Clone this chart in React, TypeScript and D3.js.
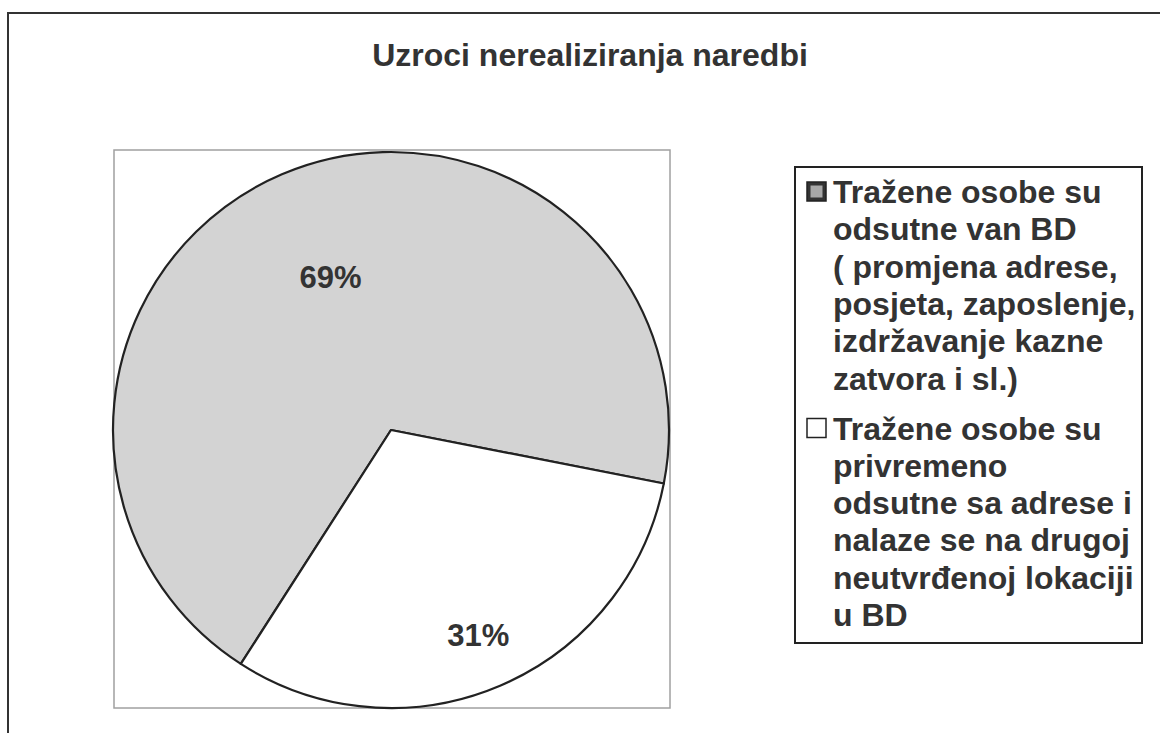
import React, { useEffect, useRef } from "react";
import * as d3 from "d3";

const title = "Uzroci nerealiziranja naredbi";
const categories = [
  "Tražene osobe su odsutne van BD ( promjena adrese, posjeta, zaposlenje, izdržavanje kazne zatvora i sl.)",
  "Tražene osobe su privremeno odsutne sa adrese i nalaze se na drugoj neutvrđenoj lokaciji u BD",
];
const values = [69, 31];
const legendLines = [
  ["Tražene osobe su", "odsutne van BD", "( promjena adrese,", "posjeta, zaposlenje,", "izdržavanje kazne", "zatvora i sl.)"],
  ["Tražene osobe su", "privremeno", "odsutne sa adrese i", "nalaze se na drugoj", "neutvrđenoj lokaciji", "u BD"],
];
const colors = ["#d3d3d3", "#ffffff"];

const FONT = "'Liberation Sans', Arial, sans-serif";
const TEXT = "#333";

function App() {
  const ref = useRef(null);

  useEffect(() => {
    const svg = d3.select(ref.current);
    svg.selectAll("*").remove();

    // outer chart frame
    svg.append("rect")
      .attr("x", 8).attr("y", 13)
      .attr("width", 1170).attr("height", 740)
      .attr("fill", "#fff")
      .attr("stroke", "#333")
      .attr("stroke-width", 2);

    svg.append("text")
      .attr("x", 590).attr("y", 66)
      .attr("text-anchor", "middle")
      .style("font-family", FONT)
      .style("font-size", "32px")
      .style("font-weight", "bold")
      .attr("fill", TEXT)
      .text(title);

    // plot area
    svg.append("rect")
      .attr("x", 114).attr("y", 150)
      .attr("width", 556).attr("height", 558)
      .attr("fill", "#fff")
      .attr("stroke", "#a0a0a0")
      .attr("stroke-width", 1.5);

    const cx = 391, cy = 430, r = 278;
    const start = (212.7 * Math.PI) / 180;
    const pie = d3.pie<number>().sort(null).value(d => d)
      .startAngle(start).endAngle(start + 2 * Math.PI);
    const arc = d3.arc<d3.PieArcDatum<number>>().innerRadius(0).outerRadius(r);
    const arcs = pie(values);

    const g = svg.append("g").attr("transform", `translate(${cx},${cy})`);
    g.selectAll("path")
      .data(arcs)
      .enter()
      .append("path")
      .attr("d", arc)
      .attr("fill", (d, i) => colors[i])
      .attr("stroke", "#222")
      .attr("stroke-width", 2.2)
      .attr("stroke-linejoin", "round");

    const labelR = [0.6, 0.8];
    g.selectAll("text.lbl")
      .data(arcs)
      .enter()
      .append("text")
      .attr("class", "lbl")
      .attr("transform", (d, i) => {
        const la = d3.arc<d3.PieArcDatum<number>>()
          .innerRadius(r * labelR[i]).outerRadius(r * labelR[i]);
        const [x, y] = la.centroid(d);
        return `translate(${x + (i === 0 ? 5 : 0)},${y})`;
      })
      .attr("text-anchor", "middle")
      .attr("dy", "0.36em")
      .style("font-family", FONT)
      .style("font-size", "31px")
      .style("font-weight", "bold")
      .attr("fill", TEXT)
      .text(d => `${d.value}%`);

    // legend
    const lg = svg.append("g");
    lg.append("rect")
      .attr("x", 795).attr("y", 167)
      .attr("width", 347).attr("height", 476)
      .attr("fill", "#fff")
      .attr("stroke", "#222")
      .attr("stroke-width", 2);

    const lineH = 37.3;
    let y = 203;
    categories.forEach((c, i) => {
      const item = lg.append("g").attr("class", "item").attr("data-name", c);
      item.append("rect")
        .attr("x", 807).attr("y", y - 21)
        .attr("width", 19).attr("height", 19)
        .attr("fill", i === 0 ? "#333" : "#fff")
        .attr("stroke", "#222")
        .attr("stroke-width", 1.5);
      if (i === 0) {
        item.append("rect")
          .attr("x", 810.5).attr("y", y - 17.5)
          .attr("width", 12).attr("height", 12)
          .attr("fill", "#a8a8a8");
      }
      legendLines[i].forEach((t, j) => {
        item.append("text")
          .attr("x", 833).attr("y", y + j * lineH)
          .style("font-family", FONT)
          .style("font-size", "32px")
          .style("font-weight", "bold")
          .attr("fill", TEXT)
          .text(t);
      });
      y += (legendLines[i].length - 1) * lineH + 50;
    });
  }, []);

  return (
    <svg ref={ref} width={1160} height={733} style={{ display: "block", position: "absolute", left: 0, top: 0 }} />
  );
}

export default App;
